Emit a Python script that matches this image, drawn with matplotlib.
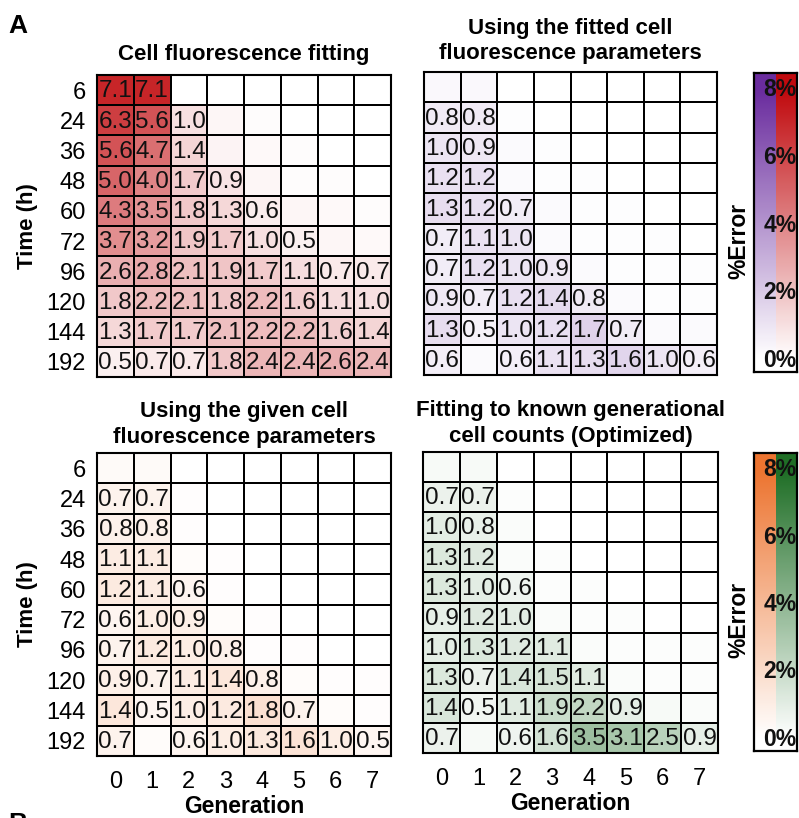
import numpy as np
import matplotlib
matplotlib.use("Agg")
import matplotlib.pyplot as plt
from matplotlib.colors import LinearSegmentedColormap

plt.rcParams['font.family'] = ['Liberation Sans', 'DejaVu Sans']

# ---- data -------------------------------------------------------------
times = [6, 24, 36, 48, 60, 72, 96, 120, 144, 192]
generations = [0, 1, 2, 3, 4, 5, 6, 7]

# % error per time point (rows) and generation (columns)
err_fluor_fit = [
    [7.1, 7.1, 0.0, 0.0, 0.0, 0.0, 0.0, 0.0],
    [6.3, 5.6, 1.0, 0.3, 0.1, 0.0, 0.0, 0.0],
    [5.6, 4.7, 1.4, 0.4, 0.2, 0.1, 0.0, 0.0],
    [5.0, 4.0, 1.7, 0.9, 0.3, 0.1, 0.1, 0.0],
    [4.3, 3.5, 1.8, 1.3, 0.6, 0.3, 0.2, 0.1],
    [3.7, 3.2, 1.9, 1.7, 1.0, 0.5, 0.3, 0.2],
    [2.6, 2.8, 2.1, 1.9, 1.7, 1.1, 0.7, 0.7],
    [1.8, 2.2, 2.1, 1.8, 2.2, 1.6, 1.1, 1.0],
    [1.3, 1.7, 1.7, 2.1, 2.2, 2.2, 1.6, 1.4],
    [0.5, 0.7, 0.7, 1.8, 2.4, 2.4, 2.6, 2.4],
]
err_fitted_params = [
    [0.3, 0.3, 0.0, 0.0, 0.0, 0.0, 0.0, 0.0],
    [0.8, 0.8, 0.1, 0.0, 0.0, 0.0, 0.0, 0.0],
    [1.0, 0.9, 0.2, 0.1, 0.0, 0.0, 0.0, 0.0],
    [1.2, 1.2, 0.2, 0.1, 0.1, 0.0, 0.0, 0.0],
    [1.3, 1.2, 0.7, 0.2, 0.1, 0.1, 0.0, 0.0],
    [0.7, 1.1, 1.0, 0.2, 0.1, 0.1, 0.1, 0.0],
    [0.7, 1.2, 1.0, 0.9, 0.2, 0.1, 0.1, 0.1],
    [0.9, 0.7, 1.2, 1.4, 0.8, 0.2, 0.1, 0.1],
    [1.3, 0.5, 1.0, 1.2, 1.7, 0.7, 0.2, 0.2],
    [0.6, 0.2, 0.6, 1.1, 1.3, 1.6, 1.0, 0.6],
]
err_given_params = [
    [0.3, 0.3, 0.0, 0.0, 0.0, 0.0, 0.0, 0.0],
    [0.7, 0.7, 0.1, 0.0, 0.0, 0.0, 0.0, 0.0],
    [0.8, 0.8, 0.1, 0.0, 0.0, 0.0, 0.0, 0.0],
    [1.1, 1.1, 0.2, 0.1, 0.0, 0.0, 0.0, 0.0],
    [1.2, 1.1, 0.6, 0.1, 0.0, 0.0, 0.0, 0.0],
    [0.6, 1.0, 0.9, 0.2, 0.1, 0.0, 0.0, 0.0],
    [0.7, 1.2, 1.0, 0.8, 0.1, 0.1, 0.0, 0.0],
    [0.9, 0.7, 1.1, 1.4, 0.8, 0.2, 0.1, 0.1],
    [1.4, 0.5, 1.0, 1.2, 1.8, 0.7, 0.2, 0.1],
    [0.7, 0.2, 0.6, 1.0, 1.3, 1.6, 1.0, 0.5],
]
err_optimized = [
    [0.3, 0.3, 0.0, 0.0, 0.0, 0.0, 0.0, 0.0],
    [0.7, 0.7, 0.1, 0.0, 0.0, 0.0, 0.0, 0.0],
    [1.0, 0.8, 0.2, 0.0, 0.0, 0.0, 0.0, 0.0],
    [1.3, 1.2, 0.2, 0.1, 0.0, 0.0, 0.0, 0.0],
    [1.3, 1.0, 0.6, 0.1, 0.1, 0.0, 0.0, 0.0],
    [0.9, 1.2, 1.0, 0.2, 0.1, 0.1, 0.0, 0.0],
    [1.0, 1.3, 1.2, 1.1, 0.2, 0.1, 0.1, 0.1],
    [1.3, 0.7, 1.4, 1.5, 1.1, 0.2, 0.1, 0.1],
    [1.4, 0.5, 1.1, 1.9, 2.2, 0.9, 0.3, 0.2],
    [0.7, 0.3, 0.6, 1.6, 3.5, 3.1, 2.5, 0.9],
]

titles = [
    "Cell fluorescence fitting",
    "Using the fitted cell\nfluorescence parameters",
    "Using the given cell\nfluorescence parameters",
    "Fitting to known generational\ncell counts (Optimized)",
]
cbar_ticks = [0, 2, 4, 6, 8]

# ---- colour maps ------------------------------------------------------
def white_to(c, name):
    return LinearSegmentedColormap.from_list(name, ["#FFFFFF", c])

cm_red = white_to("#C00A0E", "red")
cm_purple = white_to("#6A2C9E", "purple")
cm_orange = white_to("#EC7430", "orange")
cm_green = white_to("#1F6E26", "green")

VMIN, VMAX = 0, 8

W, H = 799, 818
fig = plt.figure(figsize=(W / 100, H / 100), dpi=100)


def px_axes(x0, y0, x1, y1):
    return fig.add_axes([x0 / W, 1 - y1 / H, (x1 - x0) / W, (y1 - y0) / H])


def heatmap(ax, data, cmap, title, pad, show_y, show_x):
    arr = np.array(data)
    nr, nc = arr.shape
    ax.pcolormesh(np.arange(nc + 1), np.arange(nr + 1), arr, cmap=cmap,
                  vmin=VMIN, vmax=VMAX, edgecolors="black", linewidth=1.2)
    ax.set_xlim(0, nc)
    ax.set_ylim(nr, 0)
    for i in range(nr):
        for j in range(nc):
            v = arr[i, j]
            if v >= 0.45:
                ax.text(j + 0.5, i + 0.54, f"{v:.1f}", ha="center", va="center",
                        fontsize=17.5, color="#111111")
    for s in ax.spines.values():
        s.set_linewidth(1.5)
        s.set_color("black")
    ax.tick_params(length=0, labelsize=17, pad=8)
    if show_y:
        ax.set_yticks(np.arange(nr) + 0.5)
        ax.set_yticklabels([str(t) for t in times])
        ax.set_ylabel("Time (h)", fontsize=16, fontweight="bold", labelpad=6)
    else:
        ax.set_yticks([])
    if show_x:
        ax.set_xticks(np.arange(nc) + 0.5)
        ax.set_xticklabels([str(g) for g in generations])
        ax.tick_params(axis="x", pad=11)
        ax.set_xlabel("Generation", fontsize=16.5, fontweight="bold", labelpad=1)
    else:
        ax.set_xticks([])
    ax.set_title(title, fontsize=16, fontweight="bold", pad=pad, linespacing=1.3)


def colorbar(ax, cmap_left, cmap_right):
    lo, hi = -0.35, 8.5
    levels = np.linspace(lo, hi, 300)
    grid = np.column_stack([levels, levels])
    edges = np.linspace(lo, hi, 301)
    ax.pcolormesh([0, 1], edges, grid[:, :1], cmap=cmap_left, vmin=VMIN, vmax=VMAX)
    ax.pcolormesh([1, 2], edges, grid[:, 1:], cmap=cmap_right, vmin=VMIN, vmax=VMAX)
    ax.set_xlim(0, 2)
    ax.set_ylim(lo, hi)
    ax.set_xticks([])
    ax.set_yticks([])
    for s in ax.spines.values():
        s.set_linewidth(1.6)
    for t in cbar_ticks:
        ax.text(1.98, t, f"{t}%", ha="right", va="center", fontsize=16.5,
                fontweight="bold", color="#111111")
    ax.text(-0.36, 0.44, "%Error", rotation=90, ha="center", va="center",
            fontsize=16.5, fontweight="bold", transform=ax.transAxes)


ax1 = px_axes(97, 75, 391, 377)
ax2 = px_axes(424, 72, 717, 375)
ax3 = px_axes(97, 453, 391, 756)
ax4 = px_axes(423, 452, 718, 753)

heatmap(ax1, err_fluor_fit, cm_red, titles[0], 11, True, False)
heatmap(ax2, err_fitted_params, cm_purple, titles[1], 9, False, False)
heatmap(ax3, err_given_params, cm_orange, titles[2], 7, True, True)
heatmap(ax4, err_optimized, cm_green, titles[3], 7, False, True)

cax1 = px_axes(754, 73, 797, 372)
cax2 = px_axes(754, 453, 797, 751)
colorbar(cax1, cm_purple, cm_red)
colorbar(cax2, cm_orange, cm_green)

fig.text(8 / W, 1 - 33 / H, "A", fontsize=19, fontweight="bold", va="baseline")
fig.text(8 / W, 1 - 812 / H, "B", fontsize=19, fontweight="bold", va="top")

fig.savefig("out.png", dpi=100)
